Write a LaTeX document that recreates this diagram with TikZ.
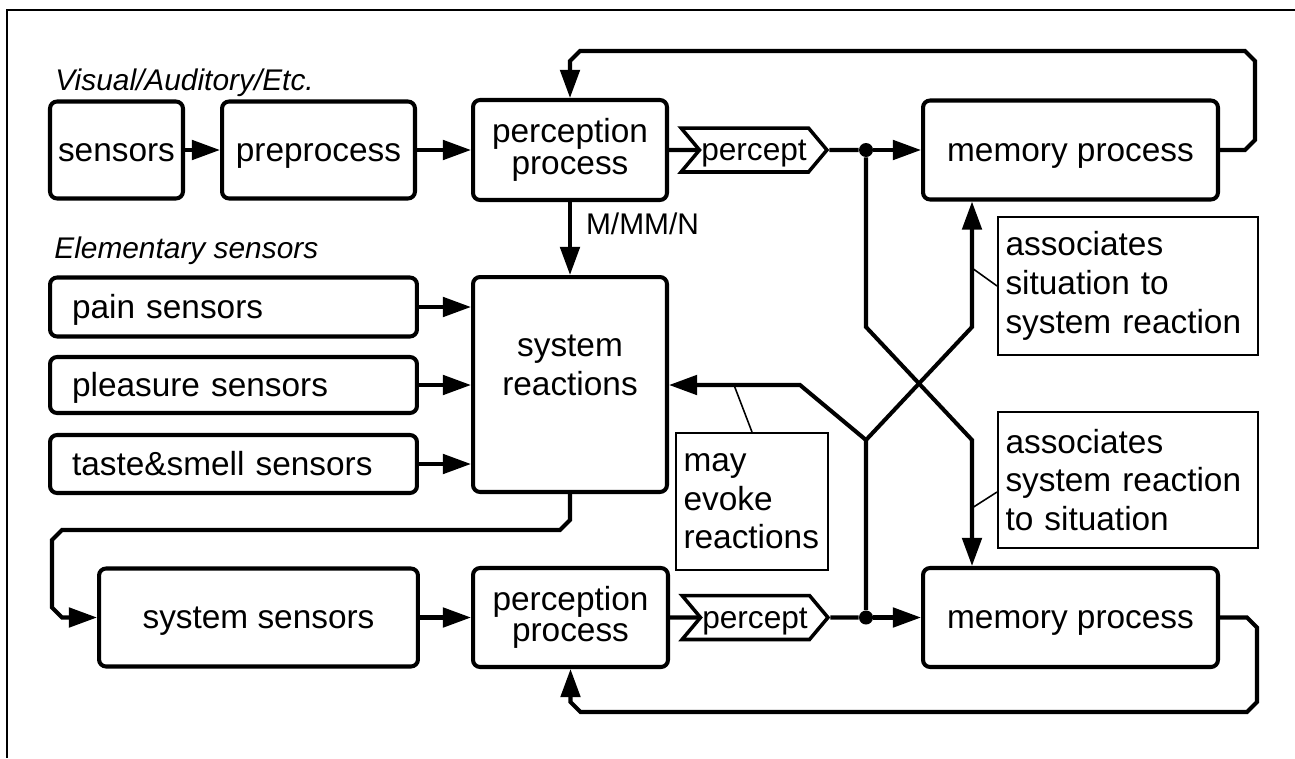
\documentclass[tikz,border=0pt]{standalone}
\usepackage{fontspec}
\setmainfont{Liberation Sans}
\usetikzlibrary{positioning, arrows.meta, shapes.symbols}

\begin{document}
\begin{tikzpicture}[
    x=0.02cm, y=-0.02cm,
    >={Triangle[length=16pt, width=11pt]},
    proc/.style={
        rectangle,
        rounded corners=4pt,
        draw,
        line width=2.3pt,
        align=center,
        inner sep=0pt,
        font=\fontsize{19}{18}\selectfont
    },
    oneline/.style={text height=15pt, text depth=2pt},
    sensbox/.style={
        proc,
        oneline,
        minimum width=7.34cm,
        text width=6.46cm,
        align=left
    },
    percept/.style={
        signal,
        signal from=west,
        signal to=east,
        signal pointer angle=100,
        draw,
        line width=2pt,
        minimum width=2.86cm,
        minimum height=0.88cm,
        inner sep=1pt,
        text height=13pt,
        text depth=1pt,
        font=\fontsize{18}{17}\selectfont
    },
    note/.style={
        rectangle,
        draw,
        line width=1.1pt,
        align=left,
        inner xsep=0.15cm,
        inner ysep=0pt,
        font=\fontsize{19}{22}\selectfont
    },
    group/.style={
        anchor=base west,
        inner sep=0pt,
        font=\fontsize{17}{20}\selectfont\itshape
    },
    dot/.style={circle, fill, inner sep=0pt, minimum size=0.28cm},
    line/.style={line width=2.3pt},
    arrow/.style={->, line width=2.3pt},
    leader/.style={line width=0.9pt}
]
\useasboundingbox (0,0) rectangle (1295,758);

% Frame
\draw[line width=1.6pt] (1295,10) -- (7,10) -- (7,758);

% Visual / auditory channel
\node[group] (visual) at (55,90) {Visual/Auditory/Etc.};
\node[proc, oneline, minimum width=2.66cm, minimum height=1.94cm] (sens) at (116.5,150) {sensors};
\node[proc, oneline, minimum width=3.86cm, minimum height=1.94cm] (prep) at (318.5,150) {preprocess};
\node[proc, minimum width=3.88cm, minimum height=2cm] (percA) at (570,150) {perception\\process};
\node[percept] (pcA) at (754,150) {percept};
\node[dot] (dotA) at (866,150) {};
\node[proc, oneline, minimum width=5.9cm, minimum height=1.98cm] (memA) at (1070.5,150) {memory process};

% Elementary sensors
\node[group] (elem) at (54,258) {Elementary sensors};
\node[sensbox, minimum height=1.18cm] (pain) at (233.5,307) {pain sensors};
\node[sensbox, minimum height=1.12cm] (pleas) at (233.5,385) {pleasure sensors};
\node[sensbox, minimum height=1.16cm] (taste) at (233.5,464) {taste\&smell sensors};
\node[proc, minimum width=3.88cm, minimum height=4.3cm, font=\fontsize{19}{22}\selectfont] (sysR) at (570,384.5) {system\\reactions\\\mbox{}};

% System sensors channel
\node[proc, oneline, minimum width=6.38cm, minimum height=1.96cm] (sysS) at (258.5,617.5) {system sensors};
\node[proc, minimum width=3.9cm, minimum height=1.98cm] (percB) at (570.5,617.5) {perception\\process};
\node[percept] (pcB) at (755,617.5) {percept};
\node[dot] (dotB) at (866,617.5) {};
\node[proc, oneline, minimum width=5.9cm, minimum height=1.98cm] (memB) at (1070.5,617.5) {memory process};

% Notes
\node[note, text width=4.9cm, minimum height=2.76cm] (assocA) at (1128,286) {associates\\situation to\\system reaction};
\node[note, text width=4.9cm, minimum height=2.72cm] (assocB) at (1128,480) {associates\\system reaction\\to situation};
\node[note, text width=2.74cm, minimum height=2.74cm] (evoke) at (752,501.5) {may\\evoke\\reactions};

% Crossing points
\coordinate (xTL) at (866,327);
\coordinate (xTR) at (972,327);
\coordinate (xBL) at (866,440);
\coordinate (xBR) at (972,440);
\coordinate (xL) at (800,385);
\coordinate (tipA) at (972,268);
\coordinate (tipB) at (972,508);
\coordinate (tipC) at (734,385);

% Arrows
\draw[arrow] (sens) -- (prep);
\draw[arrow] (prep) -- (percA);
\draw[line] (percA) -- (pcA);
\draw[line] (pcA) -- (dotA);
\draw[arrow] (dotA) -- (memA);
\draw[arrow] (percA) -- node[pos=0.3, right=8pt, inner sep=0pt, font=\fontsize{17}{17}\selectfont] (mmn) {M/MM/N} (sysR);
\draw[arrow] (pain.east) -- (pain.east -| sysR.west);
\draw[arrow] (pleas.east) -- (pleas.east -| sysR.west);
\draw[arrow] (taste.east) -- (taste.east -| sysR.west);
\draw[arrow] (sysS) -- (percB);
\draw[line] (percB) -- (pcB);
\draw[line] (pcB) -- (dotB);
\draw[arrow] (dotB) -- (memB);

% Feedback loops
\draw[arrow] (memA.east) -- (1245,150) -- (1255,140) -- (1255,61) -- (1245,51) -- (580,51) -- (570,61) -- (percA.north);
\draw[arrow] (memB.east) -- (1247,617.5) -- (1257,627.5) -- (1257,702) -- (1247,712) -- (580.5,712) -- (570.5,702) -- (percB.south);
\draw[arrow] (sysR.south) -- (570,520) -- (560,530) -- (62,530) -- (52,540) -- (52,607.5) -- (62,617.5) -- (sysS.west);

% Associations
\draw[arrow] (dotA) -- (xTL) -- (xBR) -- (xBR |- memB.north);
\draw[arrow] (dotB) -- (xBL) -- (xTR) -- (xTR |- memA.south);
\draw[arrow] (xBL) -- (xL) -- (xL -| sysR.east);

% Note leaders
\draw[leader] (assocA.west) -- (tipA);
\draw[leader] ([yshift=-0.24cm]assocB.west) -- (tipB);
\draw[leader] (evoke.north) -- (tipC);

\end{tikzpicture}
\end{document}
